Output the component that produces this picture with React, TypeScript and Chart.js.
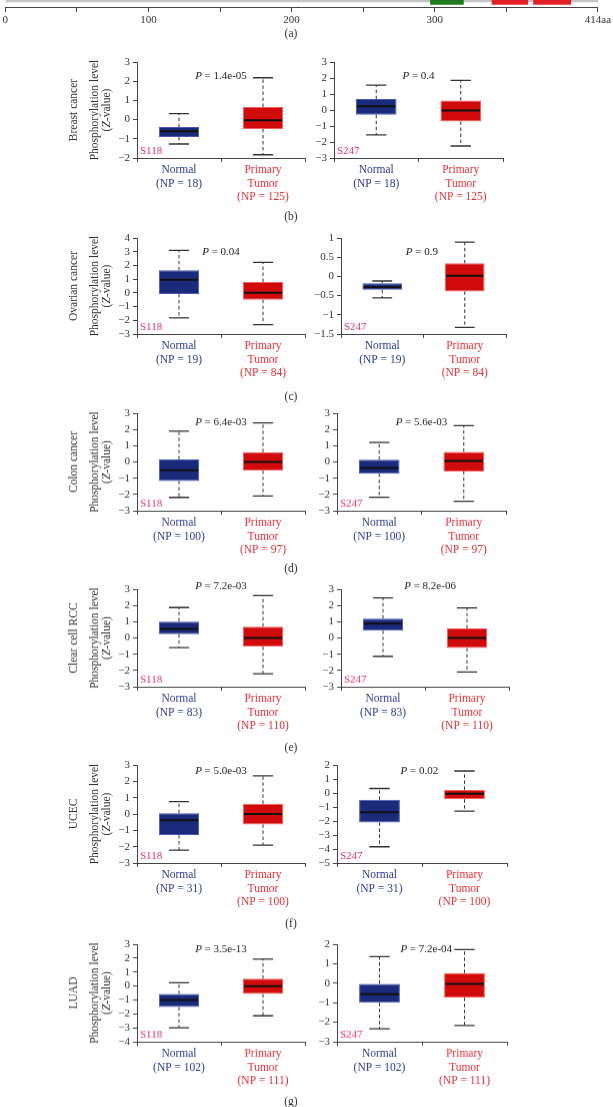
import React, { useEffect, useRef } from "react";
import { Chart, registerables } from "chart.js";

Chart.register(...registerables);

const FONT = "'Liberation Serif', 'Times New Roman', 'DejaVu Serif', serif";

// ---------- (a) protein map ----------
const proteinLength = 414;
const domainStart = [297, 340, 369];
const domainEnd = [320, 365, 395];
const mapMajorTicks = [0, 100, 200, 300, 414];
const mapMajorLabels = ["0", "100", "200", "300", "414aa"];
const mapMinorTicks = [50, 150, 250, 350];

// ---------- (b)-(g) box plots ----------
const cancerTypes = ["Breast cancer", "Ovarian cancer", "Colon cancer", "Clear cell RCC", "UCEC", "LUAD"];
const groupNames = ["Normal", "Primary Tumor"];
const siteNames = ["S118", "S247"];
const normalCounts = [18, 19, 100, 83, 31, 102];
const tumorCounts = [125, 84, 97, 110, 100, 111];
const s118PValues = ["1.4e-05", "0.04", "6.4e-03", "7.2e-03", "5.0e-03", "3.5e-13"];
const s247PValues = ["0.4", "0.9", "5.6e-03", "8.2e-06", "0.02", "7.2e-04"];

// five-number summaries: [min, q1, median, q3, max]
const s118Normal = [
  [-1.27, -0.9, -0.61, -0.39, 0.31],
  [-1.83, -0.08, 0.96, 1.64, 3.1],
  [-2.18, -1.17, -0.51, 0.16, 1.89],
  [-0.6, 0.23, 0.55, 1.01, 1.87],
  [-2.21, -1.29, -0.38, 0.05, 0.76],
  [-3.0, -1.51, -1.01, -0.58, 0.23],
];
const s118Tumor = [
  [-1.83, -0.49, -0.04, 0.66, 2.18],
  [-2.32, -0.5, 0.0, 0.79, 2.22],
  [-2.1, -0.53, 0.0, 0.6, 2.4],
  [-2.2, -0.53, 0.0, 0.7, 2.61],
  [-1.9, -0.64, 0.0, 0.62, 2.33],
  [-2.14, -0.58, -0.02, 0.52, 1.93],
];
const s247Normal = [
  [-1.56, -0.3, 0.24, 0.68, 1.56],
  [-0.56, -0.35, -0.28, -0.18, -0.12],
  [-2.17, -0.72, -0.37, 0.14, 1.2],
  [-1.13, 0.45, 0.88, 1.19, 2.47],
  [-3.84, -2.1, -1.37, -0.49, 0.32],
  [-2.34, -1.0, -0.57, -0.03, 1.36],
];
const s247Tumor = [
  [-2.25, -0.72, -0.03, 0.6, 1.85],
  [-1.33, -0.39, 0.02, 0.34, 0.89],
  [-2.42, -0.58, 0.06, 0.62, 2.24],
  [-2.1, -0.62, 0.0, 0.58, 1.85],
  [-1.3, -0.44, -0.06, 0.22, 1.57],
  [-2.17, -0.74, -0.03, 0.52, 1.72],
];
const s118AxisMin = [-2, -3, -3, -3, -3, -4];
const s118AxisMax = [3, 4, 3, 3, 3, 3];
const s118AxisStep = [1, 1, 1, 1, 1, 1];
const s247AxisMin = [-3, -1.5, -3, -3, -5, -3];
const s247AxisMax = [3, 1, 3, 3, 2, 2];
const s247AxisStep = [1, 0.5, 1, 1, 1, 1];
const captions = ["(a)", "(b)", "(c)", "(d)", "(e)", "(f)", "(g)"];

// ---------- layout / style (positions only) ----------
const rowTop = [61.7, 238.3, 413.3, 589.3, 765, 944];
const rowBottom = [157.7, 334.3, 510.7, 686.7, 863.3, 1041.7];
const leftAxisX = 137;
const leftEndX = 305;
const rightAxisX = [334, 341, 337, 341, 337, 337];
const rightEndX = [503, 506, 506, 509, 507, 507];
const leftPX = [0.5, 0.5, 0.5, 0.5, 0.5, 0.5];
const rightPX = [0.5, 0.48, 0.5, 0.56, 0.47, 0.55];
const pDy = [14, 14, 9.4, -2.6, 6, 5];
const captionY = [33.3, 216, 396, 568, 747, 923, 1101];
const captionX = 291;

const NAVY_FILL = "#1b2a7b";
const NAVY_EDGE = "#4858b4";
const RED_FILL = "#d10b0b";
const RED_EDGE = "#f06060";
const NAVY_TEXT = "#2c3a8e";
const RED_TEXT = "#e5323a";
const SITE_TEXT = "#e3306c";
const AXIS = "#444";
const TICK_TEXT = "#333";
const GREEN_DOMAIN = "#1e7b1e";
const RED_DOMAIN = "#e32028";

const fmt = (v: number) => String(Math.round(v * 100) / 100).replace("-", "\u2212");

type Panel = {
  row: number;
  side: 0 | 1;
};

function drawPieces(ctx: CanvasRenderingContext2D, pieces: [string, boolean][], cx: number, cy: number, size: number, color: string) {
  ctx.textBaseline = "middle";
  ctx.textAlign = "left";
  ctx.fillStyle = color;
  let total = 0;
  const widths = pieces.map(([t, it]) => {
    ctx.font = `${it ? "italic " : ""}${size}px ${FONT}`;
    const w = ctx.measureText(t).width;
    total += w;
    return w;
  });
  let x = cx - total / 2;
  pieces.forEach(([t, it], i) => {
    ctx.font = `${it ? "italic " : ""}${size}px ${FONT}`;
    ctx.fillText(t, x, cy);
    x += widths[i];
  });
}

function boxConfig(p: Panel): any {
  const r = p.row;
  const left = p.side === 0;
  const normal = left ? s118Normal[r] : s247Normal[r];
  const tumor = left ? s118Tumor[r] : s247Tumor[r];
  const stats = [normal, tumor];
  const yMin = left ? s118AxisMin[r] : s247AxisMin[r];
  const yMax = left ? s118AxisMax[r] : s247AxisMax[r];
  const step = left ? s118AxisStep[r] : s247AxisStep[r];
  const pText = left ? s118PValues[r] : s247PValues[r];
  const pX = left ? leftPX[r] : rightPX[r];
  const site = siteNames[p.side];

  const canvasLeft = left ? 0 : 300;
  const canvasW = left ? 312 : 313;
  const axisX = left ? leftAxisX : rightAxisX[r];
  const endX = left ? leftEndX : rightEndX[r];
  const yW = 30;
  const padTop = 25;
  const xH = 52;

  const tumorWords = groupNames[1].split(" ");

  const boxPlugin = {
    id: "boxExtras" + r + p.side,
    afterDatasetsDraw(chart: any) {
      const { ctx, scales } = chart;
      const x = scales.x;
      const y = scales.y;
      const meta = chart.getDatasetMeta(0);
      ctx.save();
      stats.forEach((s, i) => {
        const bar = meta.data[i];
        const w = bar.width;
        const cx = x.getPixelForValue(i);
        ctx.strokeStyle = "#333";
        ctx.lineWidth = 1;
        ctx.setLineDash([3.5, 2.5]);
        ctx.beginPath();
        ctx.moveTo(cx, y.getPixelForValue(s[3]));
        ctx.lineTo(cx, y.getPixelForValue(s[4]));
        ctx.moveTo(cx, y.getPixelForValue(s[1]));
        ctx.lineTo(cx, y.getPixelForValue(s[0]));
        ctx.stroke();
        ctx.setLineDash([]);
        ctx.lineWidth = 1.3;
        ctx.beginPath();
        [s[0], s[4]].forEach((v) => {
          const py = y.getPixelForValue(v);
          ctx.moveTo(cx - w / 4, py);
          ctx.lineTo(cx + w / 4, py);
        });
        ctx.stroke();
        ctx.strokeStyle = "#111";
        ctx.lineWidth = 2;
        ctx.beginPath();
        const my = y.getPixelForValue(s[2]);
        ctx.moveTo(cx - w / 2 + 1, my);
        ctx.lineTo(cx + w / 2 - 1, my);
        ctx.stroke();
      });
      ctx.restore();
    },
    afterDraw(chart: any) {
      const { ctx, chartArea, scales } = chart;
      const x = scales.x;
      ctx.save();
      // P value
      const px = x.getPixelForValue(0) + (x.getPixelForValue(1) - x.getPixelForValue(0)) * pX;
      drawPieces(ctx, [["P", true], [" = " + pText, false]], px, chartArea.top + pDy[r], 11, "#222");
      // site label
      ctx.font = `11px ${FONT}`;
      ctx.fillStyle = SITE_TEXT;
      ctx.textAlign = "left";
      ctx.textBaseline = "middle";
      ctx.fillText(site, chartArea.left + 3, chartArea.bottom - 7);
      // y-axis title
      if (left) {
        const cy = (chartArea.top + chartArea.bottom) / 2;
        const lines: [number, [string, boolean][]][] = [
          [-63.5, [[cancerTypes[r], false]]],
          [-42, [["Phosphorylation level", false]]],
          [-30, [["(", false], ["Z", true], ["-value)", false]]],
        ];
        lines.forEach(([dx, pieces]) => {
          ctx.save();
          ctx.translate(chartArea.left + dx, cy);
          ctx.rotate(-Math.PI / 2);
          drawPieces(ctx, pieces, 0, 0, 11.5, "#333");
          ctx.restore();
        });
      }
      ctx.restore();
    },
  };

  return {
    canvasLeft,
    canvasTop: rowTop[r] - padTop,
    canvasW,
    canvasH: padTop + (rowBottom[r] - rowTop[r]) + xH,
    config: {
      type: "bar",
      data: {
        labels: [
          [groupNames[0], `(NP = ${normalCounts[r]})`],
          [tumorWords[0], tumorWords[1], `(NP = ${tumorCounts[r]})`],
        ],
        datasets: [
          {
            data: stats.map((s) => [s[1], s[3]]),
            backgroundColor: [NAVY_FILL, RED_FILL],
            borderColor: [NAVY_EDGE, RED_EDGE],
            borderWidth: 1,
            borderSkipped: false,
            barPercentage: 0.48,
            categoryPercentage: 1,
          },
        ],
      },
      options: {
        responsive: false,
        animation: false,
        events: [],
        layout: {
          padding: {
            left: axisX - canvasLeft - yW,
            right: canvasW - (endX - canvasLeft),
            top: padTop,
            bottom: 0,
          },
        },
        plugins: { legend: { display: false }, tooltip: { enabled: false } },
        scales: {
          x: {
            type: "category",
            offset: true,
            afterFit: (s: any) => {
              s.height = xH;
            },
            grid: { display: true, drawOnChartArea: false, drawTicks: true, tickLength: 4, offset: true, color: AXIS },
            border: { display: true, color: AXIS, width: 1 },
            ticks: {
              autoSkip: false,
              maxRotation: 0,
              padding: 1.5,
              color: (c: any) => (c.index === 0 ? NAVY_TEXT : RED_TEXT),
              font: { family: FONT, size: 11.5, lineHeight: 1.16 },
            },
          },
          y: {
            type: "linear",
            min: yMin,
            max: yMax,
            afterFit: (s: any) => {
              s.width = yW;
            },
            grid: { display: true, drawOnChartArea: false, drawTicks: true, tickLength: 4, color: AXIS },
            border: { display: true, color: AXIS, width: 1 },
            ticks: {
              stepSize: step,
              autoSkip: false,
              padding: 3,
              color: TICK_TEXT,
              font: { family: FONT, size: 11 },
              callback: (v: any) => fmt(Number(v)),
            },
          },
        },
      },
      plugins: [boxPlugin],
    },
  };
}

function mapConfig(): any {
  const domainColors = [GREEN_DOMAIN, RED_DOMAIN, RED_DOMAIN];
  return {
    canvasLeft: 0,
    canvasTop: -20,
    canvasW: 613,
    canvasH: 50,
    config: {
      type: "bar",
      data: {
        labels: ["protein"],
        datasets: [
          ...domainStart.map((s, i) => ({
            data: [[s, domainEnd[i]]],
            backgroundColor: domainColors[i],
            barThickness: 21.1,
            grouped: false,
            order: 1,
          })),
          {
            data: [[0, proteinLength]],
            backgroundColor: "#c4c4c4",
            barThickness: 16.5,
            grouped: false,
            order: 2,
          },
        ],
      },
      options: {
        indexAxis: "y",
        responsive: false,
        animation: false,
        events: [],
        layout: { padding: { left: 5.3, right: 613 - 599.3, top: 0, bottom: 0 } },
        plugins: { legend: { display: false }, tooltip: { enabled: false } },
        scales: {
          y: { display: false },
          x: {
            type: "linear",
            min: 0,
            max: proteinLength,
            afterFit: (s: any) => {
              s.height = 22.5;
            },
            afterBuildTicks: (s: any) => {
              s.ticks = [...mapMajorTicks, ...mapMinorTicks].sort((a, b) => a - b).map((v) => ({ value: v }));
            },
            grid: { display: true, drawOnChartArea: false, drawTicks: true, tickLength: 4.5, color: AXIS },
            border: { display: true, color: AXIS, width: 1 },
            ticks: {
              autoSkip: false,
              maxRotation: 0,
              padding: 1.9,
              color: TICK_TEXT,
              font: { family: FONT, size: 11 },
              callback: (v: any) => {
                const i = mapMajorTicks.indexOf(Number(v));
                return i >= 0 ? mapMajorLabels[i] : "";
              },
            },
          },
        },
      },
    },
  };
}

function ChartCanvas({ spec }: { spec: any }) {
  const ref = useRef<HTMLCanvasElement>(null);
  useEffect(() => {
    const chart = new Chart(ref.current as HTMLCanvasElement, spec.config);
    return () => chart.destroy();
  }, []);
  return (
    <canvas
      ref={ref}
      width={spec.canvasW}
      height={spec.canvasH}
      style={{
        position: "absolute",
        left: spec.canvasLeft,
        top: spec.canvasTop,
        width: spec.canvasW,
        height: spec.canvasH,
      }}
    />
  );
}

export default function App() {
  const specs: any[] = [mapConfig()];
  for (let r = 0; r < 6; r++) {
    specs.push(boxConfig({ row: r, side: 0 }));
    specs.push(boxConfig({ row: r, side: 1 }));
  }
  return (
    <div
      style={{
        position: "absolute",
        left: 0,
        top: 0,
        width: 613,
        height: 1107,
        overflow: "hidden",
        background: "#fff",
      }}
    >
      {specs.map((s, i) => (
        <ChartCanvas key={i} spec={s} />
      ))}
      {captions.map((c, i) => (
        <div
          key={"cap" + i}
          style={{
            position: "absolute",
            left: captionX - 30,
            width: 60,
            top: captionY[i] - 7,
            height: 14,
            lineHeight: "14px",
            textAlign: "center",
            fontFamily: FONT,
            fontSize: 11.5,
            color: "#333",
          }}
        >
          {c}
        </div>
      ))}
    </div>
  );
}
